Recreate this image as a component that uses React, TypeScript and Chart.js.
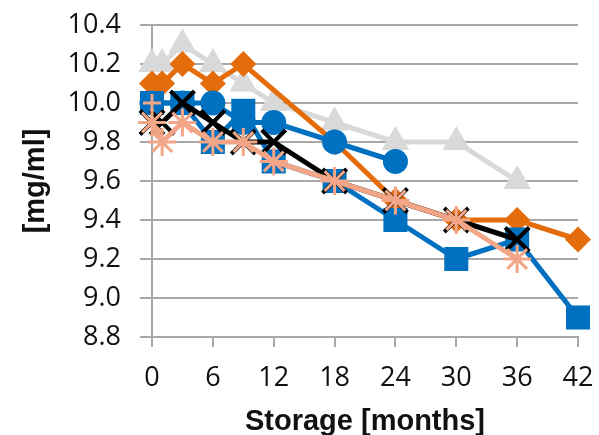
import React, { useEffect, useRef } from "react";
import { Chart, registerables } from "chart.js";

Chart.register(...registerables);

// Storage months and measured concentrations [mg/ml] per series
const orangeMonths = [0, 1, 3, 6, 9, 18, 24, 30, 36, 42];
const orangeValues = [10.1, 10.1, 10.2, 10.1, 10.2, 9.8, 9.5, 9.4, 9.4, 9.3];

const squareMonths = [0, 3, 6, 9, 12, 18, 24, 30, 36, 42];
const squareValues = [10.0, 10.0, 9.8, 9.96, 9.7, 9.6, 9.4, 9.2, 9.3, 8.9];

const circleMonths = [0, 3, 6, 9, 12, 18, 24];
const circleValues = [10.0, 10.0, 10.0, 9.9, 9.9, 9.8, 9.7];

const grayMonths = [0, 1, 3, 6, 9, 12, 18, 24, 30, 36];
const grayValues = [10.2, 10.2, 10.3, 10.2, 10.1, 10.0, 9.9, 9.8, 9.8, 9.6];

const blackMonths = [0, 1, 3, 6, 9, 12, 18, 24, 30, 36];
const blackValues = [9.9, 9.9, 10.0, 9.9, 9.8, 9.8, 9.6, 9.5, 9.4, 9.3];

const starMonths = [0, 1, 3, 6, 9, 12, 18, 24, 30, 36];
const starValues = [9.9, 9.8, 9.9, 9.8, 9.8, 9.7, 9.6, 9.5, 9.4, 9.2];

const plusMonths = [0];
const plusValues = [10.0];

const xTicks = [0, 6, 12, 18, 24, 30, 36, 42];
const yTicks = [8.8, 9.0, 9.2, 9.4, 9.6, 9.8, 10.0, 10.2, 10.4];

const pts = (xs: number[], ys: number[]) => xs.map((x, i) => ({ x, y: ys[i] }));

export default function App() {
  const ref = useRef<HTMLCanvasElement | null>(null);

  useEffect(() => {
    document.body.style.margin = "0";
    const ctx = ref.current!.getContext("2d")!;
    const gridColor = "#A8A8A8";
    const tickFont = { family: "'Open Sans', sans-serif", size: 27 };
    const titleFont = { family: "'Liberation Sans', Arial, sans-serif", size: 29, weight: "bold" as const, lineHeight: 1 };

    const chart = new Chart(ctx, {
      type: "line",
      data: {
        datasets: [
          {
            label: "plus",
            data: pts(plusMonths, plusValues),
            showLine: false,
            pointStyle: "cross",
            pointRadius: 9,
            pointBorderWidth: 3,
            borderColor: "#F2A687",
            backgroundColor: "#F2A687",
            clip: false,
          },
          {
            label: "star",
            data: pts(starMonths, starValues),
            borderColor: "#F2A687",
            backgroundColor: "#F2A687",
            borderWidth: 5,
            pointStyle: "star",
            pointRadius: 14,
            pointBorderWidth: 3,
            clip: false,
          },
          {
            label: "black",
            data: pts(blackMonths, blackValues),
            borderColor: "#000000",
            backgroundColor: "#000000",
            borderWidth: 5,
            pointStyle: "crossRot",
            pointRadius: 17,
            pointBorderWidth: 4,
            clip: false,
          },
          {
            label: "square",
            data: pts(squareMonths, squareValues),
            borderColor: "#0070C0",
            backgroundColor: "#0070C0",
            borderWidth: 5,
            pointStyle: "rect",
            pointRadius: 17,
            pointBorderWidth: 0,
            clip: false,
          },
          {
            label: "circle",
            data: pts(circleMonths, circleValues),
            borderColor: "#0070C0",
            backgroundColor: "#0070C0",
            borderWidth: 5,
            pointStyle: "circle",
            pointRadius: 12.5,
            pointBorderWidth: 0,
            clip: false,
          },
          {
            label: "orange",
            data: pts(orangeMonths, orangeValues),
            borderColor: "#E46C0A",
            backgroundColor: "#E46C0A",
            borderWidth: 5,
            pointStyle: "rectRot",
            pointRadius: 13,
            pointBorderWidth: 0,
            clip: false,
          },
          {
            label: "gray",
            data: pts(grayMonths, grayValues),
            borderColor: "#D9D9D9",
            backgroundColor: "#D9D9D9",
            borderWidth: 5,
            pointStyle: "triangle",
            pointRadius: 16,
            pointBorderWidth: 0,
            clip: false,
          },
        ],
      },
      options: {
        responsive: false,
        animation: false,
        events: [],
        layout: { padding: { top: 25, right: 20, left: 0, bottom: 0 } },
        plugins: { legend: { display: false }, tooltip: { enabled: false } },
        scales: {
          x: {
            type: "linear",
            min: xTicks[0],
            max: xTicks[xTicks.length - 1],
            afterBuildTicks: (s: any) => {
              s.ticks = xTicks.map((v) => ({ value: v }));
            },
            afterFit: (s: any) => {
              s.height = 98;
              s.paddingLeft = 0;
              s.paddingRight = 0;
            },
            ticks: { font: tickFont, color: "#111", padding: 15, maxRotation: 0 },
            grid: { drawOnChartArea: false, drawTicks: true, tickLength: 10, color: gridColor, lineWidth: 2 },
            border: { display: true, color: gridColor, width: 2 },
            title: { display: true, text: "Storage [months]", font: titleFont, color: "#111", padding: { top: 0, bottom: -1 } },
          },
          y: {
            type: "linear",
            min: yTicks[0],
            max: yTicks[yTicks.length - 1],
            afterBuildTicks: (s: any) => {
              s.ticks = yTicks.map((v) => ({ value: v }));
            },
            afterFit: (s: any) => {
              s.width = 152;
              s.paddingTop = 0;
              s.paddingBottom = 0;
            },
            ticks: {
              font: tickFont,
              color: "#111",
              padding: 19,
              callback: (v: any) => Number(v).toFixed(1),
            },
            grid: { drawOnChartArea: true, drawTicks: true, tickLength: 12, color: gridColor, lineWidth: 2 },
            border: { display: true, color: gridColor, width: 2 },
            title: { display: true, text: "[mg/ml]", font: titleFont, color: "#111", padding: { top: 21, bottom: 0 } },
          },
        },
      },
    });
    return () => chart.destroy();
  }, []);

  return (
    <div style={{ position: "absolute", left: 0, top: 0, width: 599, height: 435, background: "#fff" }}>
      <canvas ref={ref} width={599} height={435} />
    </div>
  );
}
